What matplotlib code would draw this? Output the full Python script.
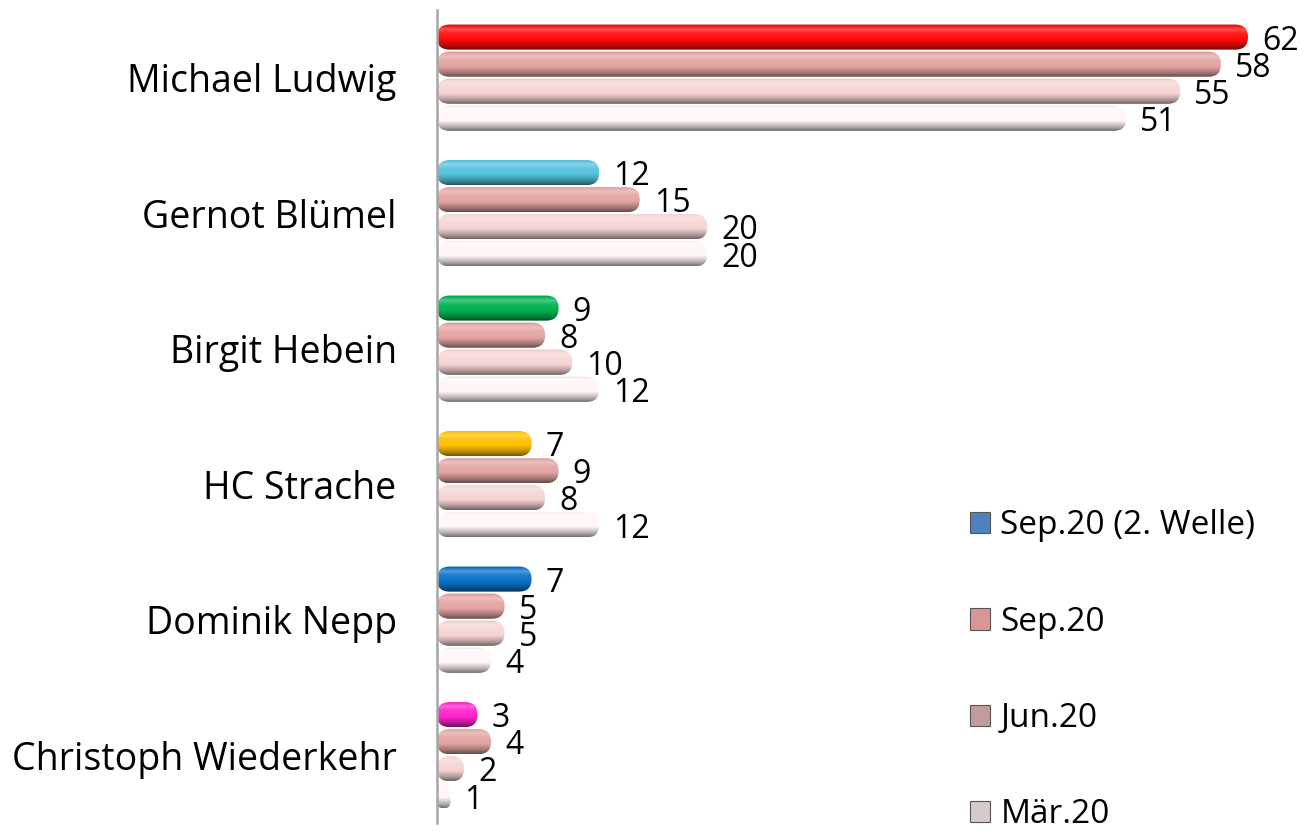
import numpy as np
import matplotlib.pyplot as plt
from matplotlib.patches import FancyBboxPatch, Patch
from matplotlib.colors import to_rgb

plt.rcParams['font.family'] = ['Open Sans', 'DejaVu Sans']

# ============= DATA =============
candidates = ["Michael Ludwig", "Gernot Blümel", "Birgit Hebein",
              "HC Strache", "Dominik Nepp", "Christoph Wiederkehr"]
series_names = ["Sep.20 (2. Welle)", "Sep.20", "Jun.20", "Mär.20"]
sep20_w2 = [62, 12, 9, 7, 7, 3]
sep20 = [58, 15, 8, 9, 5, 4]
jun20 = [55, 20, 10, 8, 5, 2]
mar20 = [51, 20, 12, 12, 4, 1]

party_colors = ["#FF0A0A", "#55C2DE", "#00B050", "#FFC000", "#0A72C8", "#FF22CC"]
series_colors = [None, "#E3A4A2", "#F7D4D4", "#FFF6F6"]
legend_colors = ["#4F81BD", "#D99694", "#C49A9A", "#D8CACA"]

XMAX = 60


def shade(color, n=80):
    # vertical gradient top->bottom giving a rounded, tube like look
    base = np.array(to_rgb(color))
    t = np.linspace(0, 1, n)
    f = np.interp(t, [0, 0.06, 0.2, 0.35, 0.6, 0.85, 1.0],
                  [0.75, 1.0, 1.3, 1.08, 1.0, 0.7, 0.45])
    out = np.zeros((n, 1, 3))
    for i, k in enumerate(f):
        if k >= 1:
            out[i, 0] = base + (1 - base) * (k - 1)
        else:
            out[i, 0] = base * k
    return np.clip(out, 0, 1)


fig = plt.figure(figsize=(13.07, 8.34), dpi=100)
ax = fig.add_axes([437 / 1307, 11 / 834, (1248 - 437) / 1307, (824 - 11) / 834])
ax.set_xlim(0, XMAX)
ax.set_ylim(len(candidates) - 0.5, -0.5)

# pixel sizes of a data unit, used to keep the bar ends round
sx = ax.get_position().width * 1307 / XMAX
sy = ax.get_position().height * 834 / len(candidates)

slot = 0.2
bar_h = 0.185
offsets = [-1.5 * slot, -0.5 * slot, 0.5 * slot, 1.5 * slot]
all_series = [sep20_w2, sep20, jun20, mar20]

for s, values in enumerate(all_series):
    for i, v in enumerate(values):
        color = party_colors[i] if s == 0 else series_colors[s]
        w = min(v, XMAX)
        y = i + offsets[s]
        r_px = min(bar_h * sy, w * sx) / 2
        patch = FancyBboxPatch((0, y - bar_h / 2), w, bar_h,
                               boxstyle="round,pad=0,rounding_size=%f" % (r_px / sx),
                               mutation_aspect=sx / sy,
                               facecolor="none", edgecolor="none")
        ax.add_patch(patch)
        im = ax.imshow(shade(color), extent=(0, w, y + bar_h / 2, y - bar_h / 2),
                       aspect="auto", interpolation="bilinear", zorder=2)
        im.set_clip_path(patch)
        ax.annotate(str(v), xy=(w, y), xytext=(10, -3), textcoords="offset points",
                    va="center", ha="left", fontsize=23, color="black")

ax.set_xlim(0, XMAX)
ax.set_ylim(len(candidates) - 0.5, -0.5)
ax.set_yticks(range(len(candidates)))
ax.set_yticklabels(candidates, fontsize=27)
ax.tick_params(axis="y", length=0, pad=29)
ax.set_xticks([])
for side in ["top", "right", "bottom"]:
    ax.spines[side].set_visible(False)
ax.spines["left"].set_color("#A6A6A6")
ax.spines["left"].set_linewidth(1.8)

handles = [Patch(facecolor=c, edgecolor="#555555", linewidth=0.8) for c in legend_colors]
fig.legend(handles, series_names, loc="upper left", bbox_to_anchor=(957 / 1307, 1 - 496 / 834),
           frameon=False, fontsize=24, handlelength=0.6, handleheight=0.6,
           handletextpad=0.3, labelspacing=1.9, borderaxespad=0)

fig.savefig("out.png", dpi=100)
